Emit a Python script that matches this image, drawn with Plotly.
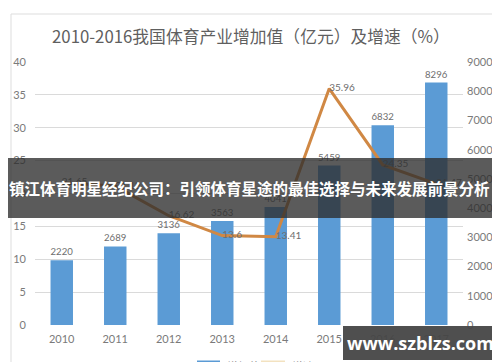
import plotly.graph_objects as go

years = ["2010", "2011", "2012", "2013", "2014", "2015", "2016", "2017"]
value_added = [2220, 2689, 3136, 3563, 4041, 5459, 6832, 8296]
growth = [21.65, 21.13, 16.62, 13.6, 13.41, 35.96, 24.35, 21.47]
growth_labels = ["21.65", "21.13", "16.62", "13.6", "13.41", "35.96", "24.35", "21.47"]
left_ticks = [0, 5, 10, 15, 20, 25, 30, 35, 40]
right_ticks = [0, 1000, 2000, 3000, 4000, 5000, 6000, 7000, 8000, 9000]

title_text = "2010-2016我国体育产业增加值（亿元）及增速（%）"
banner_text = "镇江体育明星经纪公司：引领体育星途的最佳选择与未来发展前景分析"
watermark = "www.szblzs.com"

W, H = 500, 362
L, R, T, B = 27, 45, 54, 45
PW, PH = W - L - R, H - T - B

def px(x):
    return (x - L) / PW

def py(y):
    return (H - B - y) / PH

TICK = dict(family="Lato, Liberation Sans, sans-serif", size=11, color="#7a7a7a")
CJK = "Noto Sans CJK SC, sans-serif"

fig = go.Figure()
fig.add_trace(go.Bar(
    x=years, y=value_added, name="增加值", yaxis="y",
    marker=dict(color="#5B9BD5", line=dict(width=0)),
    width=0.42,
    text=[str(v) for v in value_added], textposition="outside",
    textfont=dict(family="Lato, sans-serif", size=10, color="#6e6e6e"),
    cliponaxis=False,
))
fig.add_trace(go.Scatter(
    x=years, y=growth, name="增速", yaxis="y2", mode="lines+text",
    line=dict(color="#D08844", width=3),
    text=growth_labels, textposition="middle right",
    textfont=dict(family="Lato, sans-serif", size=10, color="#6e6e6e"),
    cliponaxis=False,
))

fig.update_layout(
    width=W, height=H,
    margin=dict(l=L, r=R, t=T, b=B, autoexpand=False),
    paper_bgcolor="white", plot_bgcolor="white",
    showlegend=False,
    xaxis=dict(type="category", showgrid=False, showline=False, ticks="",
               tickfont=TICK, ticklabelstandoff=6),
    yaxis=dict(side="right", range=[0, 9000], tickvals=right_ticks, showgrid=False,
               showline=False, zeroline=False, ticks="", tickfont=TICK,
               ticklabelstandoff=3),
    yaxis2=dict(side="left", overlaying="y", range=[0, 40], tickvals=left_ticks,
                showgrid=True, gridcolor="#DADADA", gridwidth=1, zeroline=False,
                showline=False, ticks="", tickfont=TICK, ticklabelstandoff=8),
)

shapes = [
    dict(type="rect", xref="paper", yref="paper", x0=px(3), x1=px(490), y0=py(375), y1=py(6),
         line=dict(color="#DDDDDD", width=1), fillcolor="rgba(0,0,0,0)", layer="below"),
    dict(type="rect", xref="paper", yref="paper", x0=px(-2), x1=px(502), y0=py(210), y1=py(150),
         line=dict(width=0), fillcolor="rgba(45,45,45,0.78)", layer="above"),
    dict(type="rect", xref="paper", yref="paper", x0=px(335), x1=px(490), y0=py(352), y1=py(318),
         line=dict(width=0), fillcolor="rgba(70,70,70,0.95)", layer="above"),
    dict(type="line", xref="paper", yref="paper", x0=px(189), x1=px(212), y0=py(354), y1=py(354),
         line=dict(color="#5B9BD5", width=3)),
    dict(type="line", xref="paper", yref="paper", x0=px(253), x1=px(277), y0=py(354), y1=py(354),
         line=dict(color="#F3E2C0", width=3)),
]

annotations = [
    dict(text=title_text, xref="paper", yref="paper", x=px(243), y=py(28),
         showarrow=False, font=dict(family=CJK, size=16.8, color="#5f5f5f"),
         xanchor="center", yanchor="middle"),
    dict(text="<b>" + banner_text + "</b>", xref="paper", yref="paper", x=px(241), y=py(180),
         showarrow=False, font=dict(family=CJK, size=15.5, color="white"),
         xanchor="center", yanchor="middle"),
    dict(text="<b>" + watermark + "</b>", xref="paper", yref="paper", x=px(412), y=py(335),
         showarrow=False, font=dict(family="Open Sans, DejaVu Sans, sans-serif", size=18, color="white"),
         xanchor="center", yanchor="middle"),
    dict(text="增加值", xref="paper", yref="paper", x=px(217), y=py(358),
         showarrow=False, font=dict(family=CJK, size=11, color="#8a8a8a"),
         xanchor="left", yanchor="middle"),
    dict(text="增速", xref="paper", yref="paper", x=px(282), y=py(358),
         showarrow=False, font=dict(family=CJK, size=11, color="#8a8a8a"),
         xanchor="left", yanchor="middle"),
]

fig.update_layout(shapes=shapes, annotations=annotations)
fig.write_html("out.html")
